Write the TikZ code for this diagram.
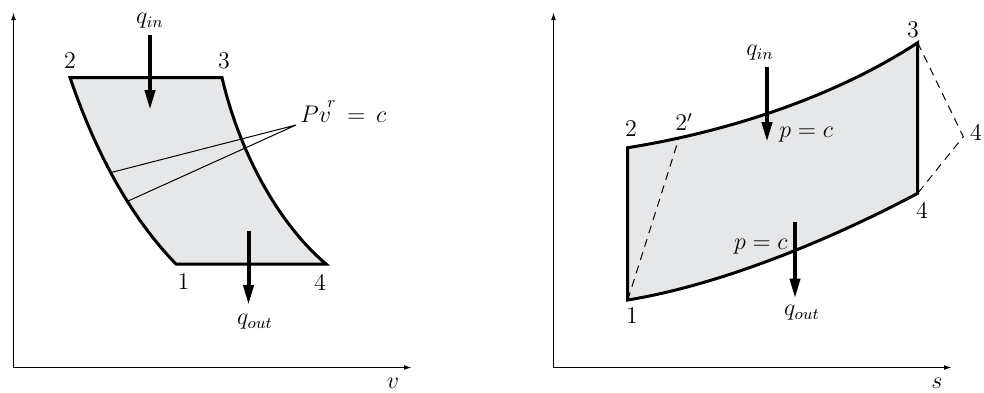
\documentclass[tikz,border=0pt]{standalone}
\usetikzlibrary{arrows.meta}
\definecolor{cyclefill}{HTML}{E6E7E9}
\begin{document}
\begin{tikzpicture}[x=0.5pt,y=-0.5pt,
  every node/.style={font=\large},
  axis/.style={line width=0.7pt,-{Latex[length=4pt,width=2.4pt]}},
  cycleline/.style={line width=1.5pt,line join=miter},
  heat/.style={line width=2pt,-{Triangle[length=10pt,width=5pt]}},
  lbl/.style={inner sep=0pt},
  dashline/.style={dashed,line width=0.5pt,dash pattern=on 4pt off 3pt}]
\useasboundingbox (0,0) rectangle (984,392);
% ---------- left diagram ----------
\coordinate (O1) at (13.5,367.5);
\coordinate (Y1) at (13.5,12);
\coordinate (X1) at (412,367.5);
\draw[axis] (O1) -- (Y1);
\draw[axis] (O1) -- (X1);
\node[lbl] (v) at (393,383) {$v$};
\coordinate (L2) at (70,77.5);
\coordinate (L3) at (222,77.5);
\coordinate (L4) at (326,264);
\coordinate (L1) at (176,264);
\fill[cyclefill] (L2) -- (L3) .. controls (240,155) and (280,225) .. (L4) -- (L1)
   .. controls (135,222) and (98,160) .. (L2) -- cycle;
\draw[cycleline] (L2) -- (L3) .. controls (240,155) and (280,225) .. (L4) -- (L1)
   .. controls (135,222) and (98,160) .. (L2) -- cycle;
\path (L2) .. controls (98,160) and (135,222) .. (L1)
   coordinate[pos=0.43] (ca) coordinate[pos=0.585] (cb);
\coordinate (pvpt) at (296,125);
\draw[line width=0.5pt] (ca) -- (pvpt) -- (cb);
\node[lbl,anchor=base west] (pv) at (300,122) {$Pv^{\mkern-4mu\raisebox{3pt}{$\scriptstyle r$}} \,=\, c$};
\node[lbl] (l2) at (70,61) {2};
\node[lbl] (l3) at (224,61) {3};
\node[lbl] (l1) at (183.5,282) {1};
\node[lbl] (l4) at (320,282) {4};
\node[lbl] (qinL) at (150,21) {$q_{in}$};
\coordinate (qinLs) at (150,35);
\coordinate (qinLe) at (150,110);
\draw[heat] (qinLs) -- (qinLe);
\coordinate (qoutLs) at (248.5,230.5);
\coordinate (qoutLe) at (248.5,305);
\draw[heat] (qoutLs) -- (qoutLe);
\node[lbl] (qoutL) at (255,322) {$q_{out}$};
% ---------- right diagram ----------
\coordinate (O2) at (553.5,367.5);
\coordinate (Y2) at (553.5,12);
\coordinate (X2) at (952,367.5);
\draw[axis] (O2) -- (Y2);
\draw[axis] (O2) -- (X2);
\node[lbl] (s) at (937,383) {$s$};
\coordinate (R1) at (627.7,300);
\coordinate (R2) at (627.7,147.7);
\coordinate (R3) at (917.7,42.7);
\coordinate (R4) at (917.7,193.3);
\coordinate (R4p) at (963.3,136.7);
\fill[cyclefill] (R1) -- (R2) .. controls (720,133) and (830,100) .. (R3) -- (R4)
   .. controls (830,240) and (720,285) .. (R1) -- cycle;
\draw[cycleline] (R1) -- (R2) .. controls (720,133) and (830,100) .. (R3) -- (R4)
   .. controls (830,240) and (720,285) .. (R1) -- cycle;
\path (R2) .. controls (720,133) and (830,100) .. (R3) coordinate[pos=0.18] (R2p);
\draw[dashline] (R1) -- (R2p);
\draw[dashline] (R3) -- (R4p) -- (R4);
\node[lbl] (r1) at (632,316) {1};
\node[lbl] (r2) at (631,129) {2};
\node[lbl] (r2p) at (684,122) {2$'$};
\node[lbl] (r3) at (913,30) {3};
\node[lbl] (r4) at (922,210) {4};
\node[lbl] (r4p) at (976,132) {4};
\node[lbl] (qinR) at (760,53) {$q_{in}$};
\coordinate (qinRs) at (767,66.5);
\coordinate (qinRe) at (767,142);
\draw[heat] (qinRs) -- (qinRe);
\node[lbl,anchor=west] (pcU) at (779,135) {$p = c$};
\coordinate (qoutRs) at (795,221.5);
\coordinate (qoutRe) at (795,298.5);
\draw[heat] (qoutRs) -- (qoutRe);
\node[lbl,anchor=east] (pcL) at (788,247) {$p = c$};
\node[lbl] (qoutR) at (802,313) {$q_{out}$};
\end{tikzpicture}
\end{document}
